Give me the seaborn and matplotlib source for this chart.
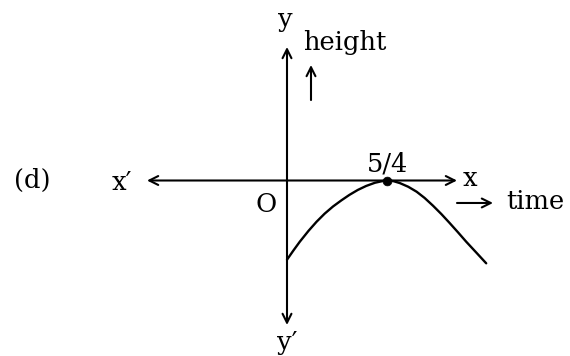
import numpy as np
import pandas as pd
import matplotlib
matplotlib.use('Agg')
import matplotlib.pyplot as plt
import seaborn as sns

# 곡선 위의 점들 (그림에서 읽은 값, time / height)
time_vals = [0.0, 0.08, 0.16, 0.27, 0.37, 0.47, 0.575, 0.68, 0.78, 0.885, 0.99, 1.1,
             1.2, 1.25, 1.33, 1.41, 1.515, 1.62, 1.72, 1.825, 1.93, 2.03, 2.135, 2.24, 2.37, 2.49]
height_vals = [-0.99, -0.875, -0.765, -0.628, -0.515, -0.415, -0.325, -0.248, -0.18, -0.118, -0.068, -0.028,
               -0.006, 0.0, -0.008, -0.032, -0.078, -0.14, -0.218, -0.315, -0.42, -0.528, -0.645, -0.765, -0.905, -1.035]

# 최고점
peak_t = [1.25]
peak_h = [0.0]
peak_label = '5/4'

curve = pd.DataFrame({'time': time_vals, 'height': height_vals})
peak = pd.DataFrame({'time': peak_t, 'height': peak_h})

sns.set_style('white')
plt.rcParams['font.family'] = ['DejaVu Serif']
plt.rcParams['text.color'] = 'black'

fig = plt.figure(figsize=(5.7, 3.56), dpi=100)
ax = fig.add_axes([0, 0, 1, 1])

# 좌표축 (화살표)
arrow = dict(arrowstyle='<->', lw=1.5, color='black', mutation_scale=16, shrinkA=0, shrinkB=0)
ax.annotate('', xy=(-1.75, 0), xytext=(2.125, 0), arrowprops=arrow)
ax.annotate('', xy=(0, 1.669), xytext=(0, -1.806), arrowprops=arrow)

one = dict(arrowstyle='->', lw=1.5, color='black', mutation_scale=16, shrinkA=0, shrinkB=0)
ax.annotate('', xy=(0.3, 1.444), xytext=(0.3, 1.006), arrowprops=one)
ax.annotate('', xy=(2.575, -0.281), xytext=(2.125, -0.281), arrowprops=one)

sns.lineplot(data=curve, x='time', y='height', ax=ax, color='black', lw=1.7, sort=False)
sns.scatterplot(data=peak, x='time', y='height', ax=ax, color='black', s=40, zorder=5, edgecolor='black')

fs = 18.5
txt = dict(fontsize=fs, color='black', va='baseline')
ax.text(-0.025, 1.92, 'y', ha='center', **txt)
ax.text(0.2, 1.631, 'height', ha='left', **txt)
ax.text(0.0, -2.12, 'y\u2032', ha='center', **txt)
ax.text(-2.06, -0.12, 'x\u2032', ha='center', **txt)
ax.text(2.29, -0.07, 'x', ha='center', **txt)
ax.text(2.74, -0.356, 'time', ha='left', **txt)
ax.text(-0.26, -0.39, 'O', ha='center', **txt)
ax.text(peak_t[0] + 0.006, 0.11, peak_label, ha='center', **txt)
ax.text(-3.19, -0.094, '(d)', ha='center', **txt)

ax.set_xlim(-3.5875, 3.5375)
ax.set_ylim(-2.19375, 2.25625)
ax.set_axis_off()

fig.savefig('out.png', dpi=100)
